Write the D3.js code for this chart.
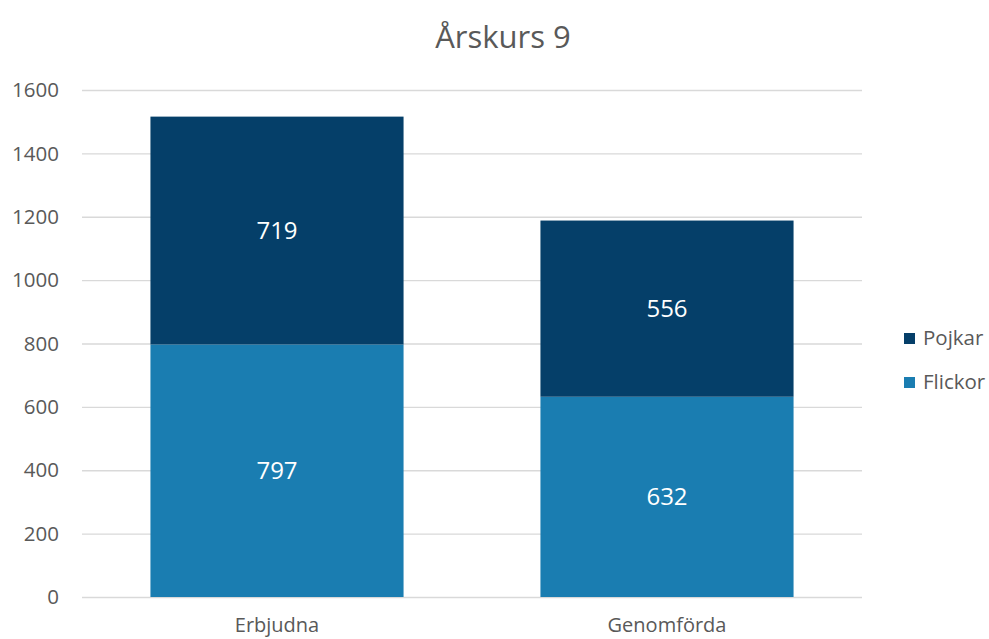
<!DOCTYPE html>
<html>
<head>
<meta charset="utf-8">
<script src="https://cdn.jsdelivr.net/npm/d3@7"></script>
<style>
  body { margin: 0; background: #fff; }
  text { font-family: "Open Sans", "Noto Sans", sans-serif; }
</style>
</head>
<body>
<div id="chart"></div>
<script>
const width = 989, height = 639;

// data
const categories = ["Erbjudna", "Genomförda"];
const flickor = [797, 632];
const pojkar = [719, 556];
const yTicks = [0, 200, 400, 600, 800, 1000, 1200, 1400, 1600];
const seriesNames = ["Pojkar", "Flickor"];

const colors = { Flickor: "#1a7db1", Pojkar: "#053f69" };
const textColor = "#595959";

const margin = { left: 82, right: 127, top: 90, bottom: 42 };

const svg = d3.select("#chart").append("svg")
    .attr("width", width)
    .attr("height", height);

const x = d3.scaleBand()
    .domain(categories)
    .range([margin.left, width - margin.right])
    .paddingInner(0.351)
    .paddingOuter(0.1755);

const y = d3.scaleLinear()
    .domain([0, 1600])
    .range([height - margin.bottom, margin.top]);

// title
svg.append("text")
    .attr("x", 503)
    .attr("y", 48)
    .attr("text-anchor", "middle")
    .attr("font-size", 31)
    .attr("fill", textColor)
    .text("Årskurs 9");

// gridlines
svg.append("g")
    .selectAll("line")
    .data(yTicks)
    .enter().append("line")
    .attr("x1", margin.left)
    .attr("x2", width - margin.right)
    .attr("y1", d => y(d) + 0.5)
    .attr("y2", d => y(d) + 0.5)
    .attr("stroke", "#d9d9d9")
    .attr("stroke-width", 1.3);

// y axis labels
svg.append("g")
    .selectAll("text")
    .data(yTicks)
    .enter().append("text")
    .attr("x", 59)
    .attr("y", d => y(d))
    .attr("dy", "0.35em")
    .attr("text-anchor", "end")
    .attr("font-size", 20.5)
    .attr("fill", textColor)
    .text(d => d);

// stacked data
const rows = categories.map((c, i) => ({ cat: c, Flickor: flickor[i], Pojkar: pojkar[i] }));
const stack = d3.stack().keys(["Flickor", "Pojkar"]);
const layers = stack(rows);

const layerG = svg.append("g")
    .selectAll("g")
    .data(layers)
    .enter().append("g")
    .attr("fill", d => colors[d.key]);

layerG.selectAll("rect")
    .data(d => d)
    .enter().append("rect")
    .attr("x", d => x(d.data.cat))
    .attr("width", x.bandwidth())
    .attr("y", d => y(d[1]))
    .attr("height", d => y(d[0]) - y(d[1]));

layerG.selectAll("text")
    .data(d => d.map(v => ({ v, key: d.key })))
    .enter().append("text")
    .attr("x", d => x(d.v.data.cat) + x.bandwidth() / 2)
    .attr("y", d => (y(d.v[0]) + y(d.v[1])) / 2)
    .attr("dy", "0.35em")
    .attr("text-anchor", "middle")
    .attr("font-size", 24)
    .attr("fill", "#fff")
    .text(d => d.v.data[d.key]);

// x axis labels
svg.append("g")
    .selectAll("text")
    .data(categories)
    .enter().append("text")
    .attr("x", d => x(d) + x.bandwidth() / 2)
    .attr("y", 625)
    .attr("dy", "0.35em")
    .attr("text-anchor", "middle")
    .attr("font-size", 20)
    .attr("fill", textColor)
    .text(d => d);

// legend
const legend = svg.append("g")
    .selectAll("g")
    .data(seriesNames)
    .enter().append("g")
    .attr("transform", (d, i) => `translate(904, ${338 + i * 44})`);

legend.append("rect")
    .attr("x", 0)
    .attr("y", -5)
    .attr("width", 11)
    .attr("height", 11)
    .attr("fill", d => colors[d]);

legend.append("text")
    .attr("x", 19)
    .attr("y", 0)
    .attr("dy", "0.35em")
    .attr("font-size", 20.5)
    .attr("fill", textColor)
    .text(d => d);
</script>
</body>
</html>
